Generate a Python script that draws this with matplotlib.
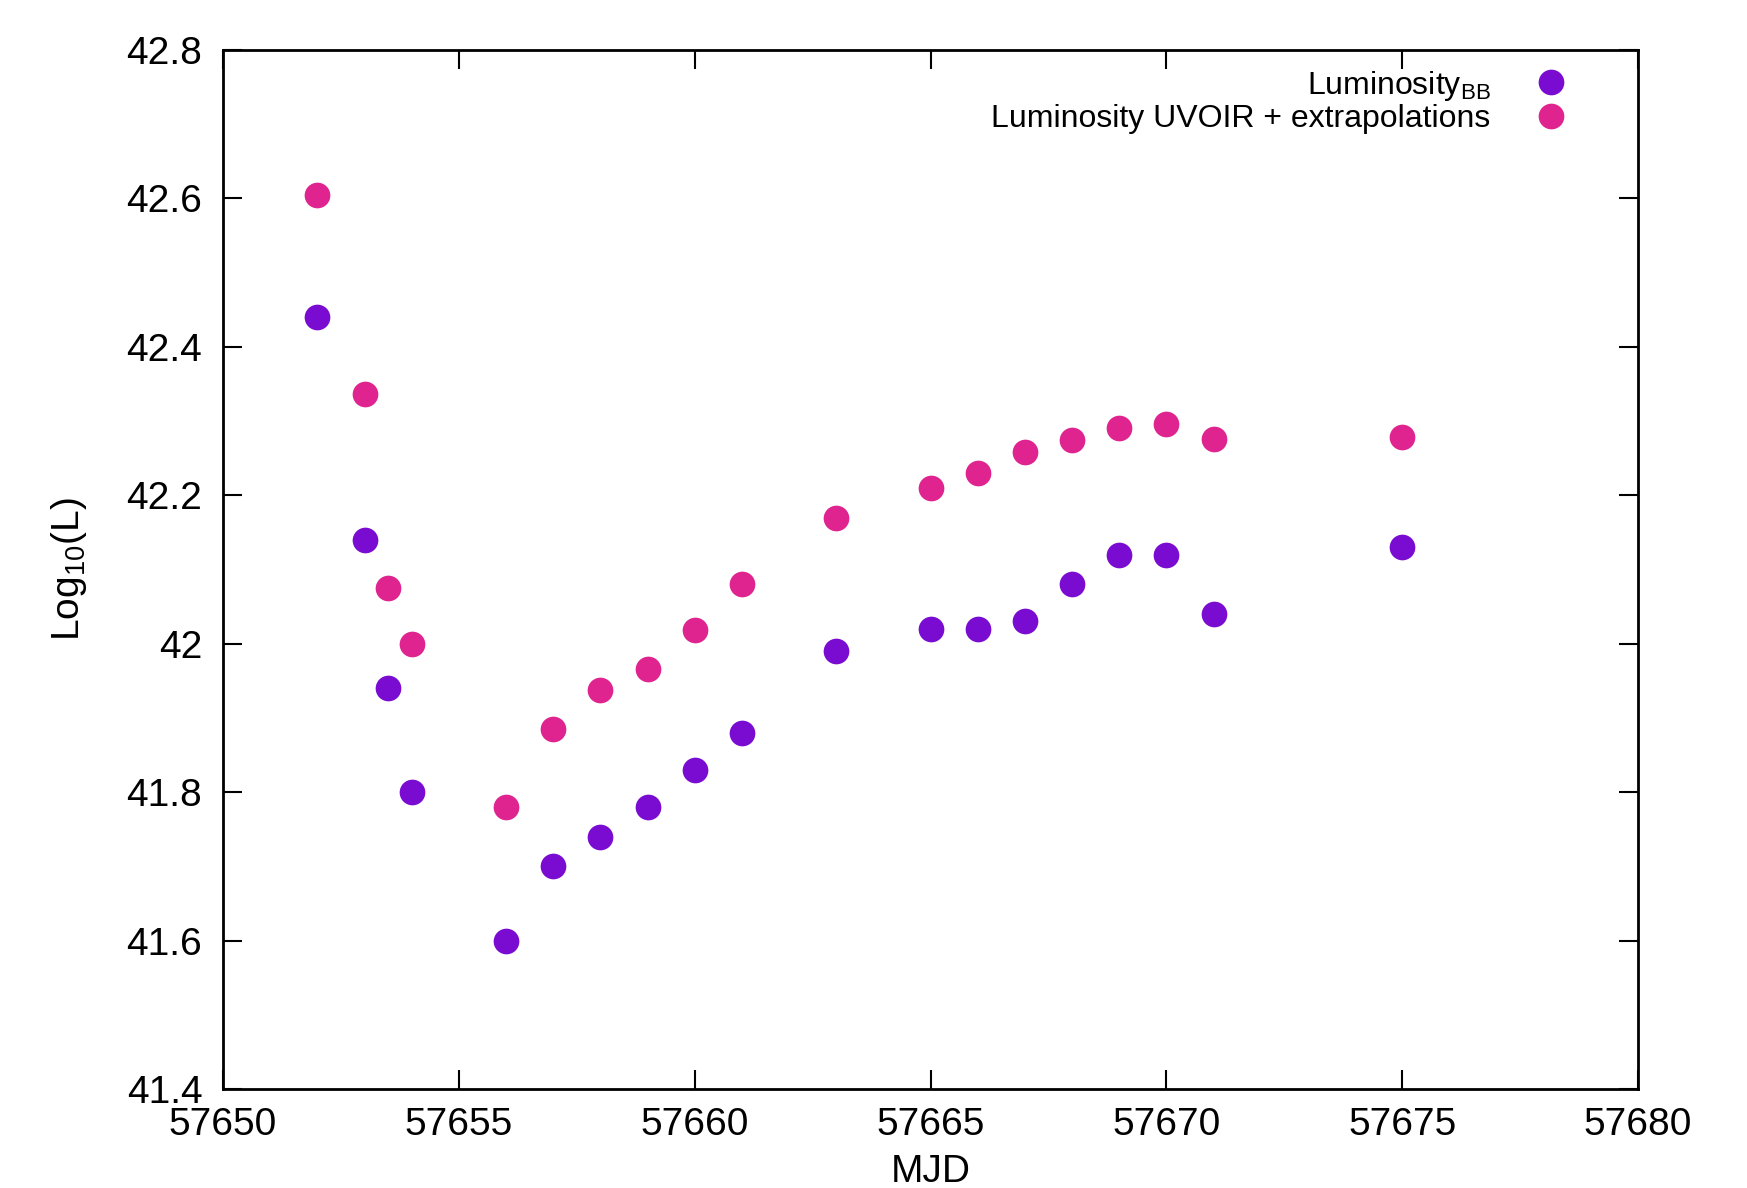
import matplotlib
matplotlib.use("Agg")
import matplotlib.pyplot as plt
from matplotlib.ticker import FuncFormatter, MultipleLocator

# MJD of each epoch
mjd = [57652, 57653, 57653.5, 57654, 57656, 57657, 57658, 57659, 57660, 57661,
       57663, 57665, 57666, 57667, 57668, 57669, 57670, 57671, 57675]

# log10 luminosity from blackbody fits
lum_bb = [42.44, 42.14, 41.94, 41.80, 41.60, 41.70, 41.74, 41.78, 41.83, 41.88,
          41.99, 42.02, 42.02, 42.03, 42.08, 42.12, 42.12, 42.04, 42.13]

# log10 luminosity, UVOIR integration plus extrapolations
lum_uvoir = [42.605, 42.336, 42.075, 41.999, 41.78, 41.885, 41.937, 41.966, 42.018, 42.081,
             42.17, 42.21, 42.23, 42.258, 42.275, 42.29, 42.296, 42.276, 42.279]

plt.rcParams['font.family'] = ['Liberation Sans', 'DejaVu Sans']
plt.rcParams['mathtext.fontset'] = 'custom'
plt.rcParams['mathtext.rm'] = 'Liberation Sans'

fig = plt.figure(figsize=(17.47, 11.88), dpi=100)
ax = fig.add_axes([0.1277, 0.0833, 0.8099, 0.8747])

ax.plot(mjd, lum_bb, 'o', ms=18.5, color='#7a0cd2', mec='none', label=r'Luminosity$_{\rm BB}$')
ax.plot(mjd, lum_uvoir, 'o', ms=18.5, color='#df2490', mec='none', label='Luminosity UVOIR + extrapolations')

ax.set_xlim(57650, 57680)
ax.set_ylim(41.4, 42.8)
ax.xaxis.set_major_locator(MultipleLocator(5))
ax.yaxis.set_major_locator(MultipleLocator(0.2))
ax.yaxis.set_major_formatter(FuncFormatter(lambda v, p: '%g' % round(v, 1)))
ax.xaxis.set_major_formatter(FuncFormatter(lambda v, p: '%d' % v))

ax.tick_params(direction='in', length=14, width=1.5, top=True, right=True,
               labelsize=28)
ax.tick_params(axis='x', pad=13)
ax.tick_params(axis='y', pad=15)
for s in ax.spines.values():
    s.set_linewidth(2)

ax.set_xlabel('MJD', fontsize=28, labelpad=8)
ax.set_ylabel(r'Log$_{10}$(L)', fontsize=28, labelpad=27)

# legend: labels right-aligned, markers on the right
leg = ax.legend(loc='upper right', bbox_to_anchor=(0.959, 0.982), borderaxespad=0, borderpad=0,
                frameon=False, markerfirst=False, fontsize=23,
                handletextpad=1.0, labelspacing=0.05, handlelength=1.8)
for t in leg.get_texts():
    t.set_ha('right')

fig.savefig('out.png', dpi=100)
